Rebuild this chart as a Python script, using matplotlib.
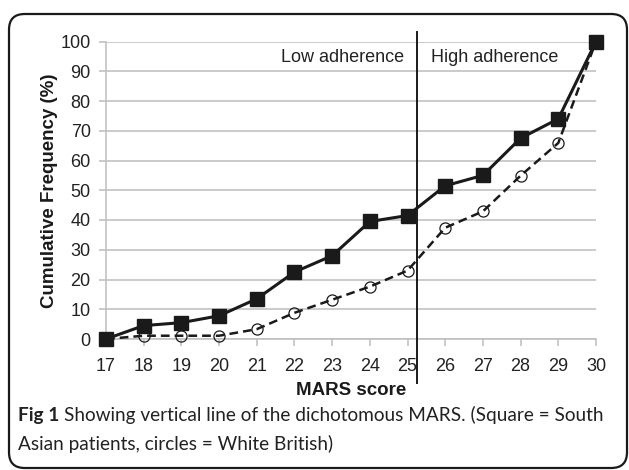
import matplotlib
matplotlib.use("Agg")
from matplotlib import pyplot as plt
from matplotlib.patches import FancyBboxPatch

mars_score = [17, 18, 19, 20, 21, 22, 23, 24, 25, 26, 27, 28, 29, 30]
south_asian = [0, 4.5, 5.5, 7.8, 13.5, 22.5, 28, 39.5, 41.5, 51.5, 55, 67.5, 74, 100]
white_british = [0, 1.1, 1.1, 1.1, 3.3, 8.8, 13.2, 17.6, 23, 37.4, 42.9, 54.9, 65.9, 100]
cutoff = 25.25
y_ticks = list(range(0, 101, 10))

plt.rcParams["font.family"] = ["Liberation Sans", "DejaVu Sans"]

fig = plt.figure(figsize=(6.29, 4.70), dpi=100)
ax = fig.add_axes([106 / 629, 1 - 339 / 470, 490 / 629, 297.5 / 470])

grid_col = "#bdbdbd"
for y in y_ticks:
    ax.axhline(y, color=grid_col, lw=1.1, zorder=0)

ax.plot(mars_score, white_british, color="#1a1a1a", lw=1.8, ls=(0, (3.5, 2)),
        marker="o", markersize=8, markerfacecolor="none",
        markeredgecolor="#1a1a1a", markeredgewidth=0.9, clip_on=False, zorder=3)
ax.plot(mars_score, south_asian, color="#1a1a1a", lw=2.2,
        marker="s", markersize=9.8, markerfacecolor="#1a1a1a",
        markeredgecolor="#1a1a1a", clip_on=False, zorder=4)

ax.plot([cutoff, cutoff], [103.2, -14.8], color="#1a1a1a", lw=1.4,
        clip_on=False, zorder=5)

ax.text(cutoff - 0.35, 94.5, "Low adherence", ha="right", va="center",
        fontsize=13, color="#222222")
ax.text(cutoff + 0.38, 94.5, "High adherence", ha="left", va="center",
        fontsize=13, color="#222222")

ax.set_xlim(17, 30)
ax.set_ylim(0, 100)
ax.set_xticks(mars_score)
ax.set_yticks(y_ticks)
ax.tick_params(axis="both", colors=grid_col, labelcolor="#222222",
               labelsize=13, length=5, width=1.1)
ax.tick_params(axis="x", pad=9)
ax.tick_params(axis="y", pad=6)
for side in ["top", "right"]:
    ax.spines[side].set_visible(False)
for side in ["left", "bottom"]:
    ax.spines[side].set_color(grid_col)
    ax.spines[side].set_linewidth(1.1)
ax.set_facecolor("none")

ax.set_xlabel("MARS score", fontsize=13.5, fontweight="bold", color="#1a1a1a",
              labelpad=5)
ax.set_ylabel("Cumulative Frequency (%)", fontsize=13.5, fontweight="bold",
              color="#1a1a1a", labelpad=2)

frame = FancyBboxPatch((9 / 629, 2 / 470), 618 / 629, 454 / 470,
                       boxstyle="round,pad=0,rounding_size=0.025",
                       transform=fig.transFigure, fill=False,
                       edgecolor="#1a1a1a", lw=1.6, mutation_aspect=629 / 470)
fig.patches.append(frame)

cap_size = 13.7
fig_lbl = fig.text(18 / 629, 1 - 415 / 470, "Fig 1", fontsize=cap_size,
                   fontweight="bold", family="Lato", color="#222222",
                   va="center", ha="left")
fig.canvas.draw()
bb = fig_lbl.get_window_extent().transformed(fig.transFigure.inverted())
fig.text(bb.x1 + 5 / 629, 1 - 415 / 470,
         "Showing vertical line of the dichotomous MARS. (Square = South",
         fontsize=cap_size, family="Lato", color="#222222", va="center", ha="left")
fig.text(18 / 629, 1 - 444 / 470, "Asian patients, circles = White British)",
         fontsize=cap_size, family="Lato", color="#222222", va="center", ha="left")

fig.savefig("out.png", dpi=100)
